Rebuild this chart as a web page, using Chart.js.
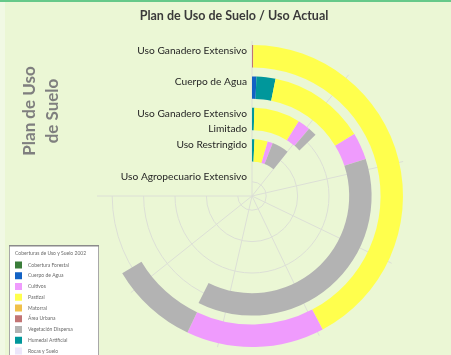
<!DOCTYPE html>
<html><head><meta charset="utf-8">
<script src="https://cdn.jsdelivr.net/npm/chart.js@4/dist/chart.umd.min.js"></script>
<style>
html,body{margin:0;padding:0;background:#EBF7D5;}
#wrap{position:relative;width:451px;height:355px;overflow:hidden;background:#EBF7D5;}
#strip{position:absolute;left:0;top:0;width:5px;height:355px;background:#F1F9E4;}
#topbar{position:absolute;left:0;top:0;width:451px;height:2px;background:#66C98A;}
canvas{position:absolute;left:0;top:0;}
</style></head><body>
<div id="wrap"><div id="strip"></div><canvas id="c" width="451" height="355"></canvas><div id="topbar"></div></div>
<script>
// ---- data ----
const chartTitle = 'Plan de Uso de Suelo / Uso Actual';
const axisTitle = ['Plan de Uso', 'de Suelo'];
const categories = [
  ['Uso Ganadero Extensivo'],
  ['Cuerpo de Agua'],
  ['Uso Ganadero Extensivo', 'Limitado'],
  ['Uso Restringido'],
  ['Uso Agropecuario Extensivo']
];
// land-cover classes in stacking order
const coverClasses = ['Área Urbana', 'Cuerpo de Agua', 'Humedal Artificial', 'Pastizal', 'Cultivos', 'Vegetación Dispersa', 'Cobertura Forestal', 'Matorral', 'Rocas y Suelo'];
const coverColors  = ['#C27474', '#1262C4', '#00979B', '#FFFF4D', '#EF9BFD', '#B3B3B3', '#3A7D3A', '#F0C04A', '#ECE6FA'];
// values for each ring, same order as coverClasses
const usoGanaderoExtensivo      = [0.13, 0,    0,    39.3, 13.8, 8.8,  0, 0, 0];
const cuerpoDeAgua              = [0,    0.55, 2.4,  12.3, 3.4,  34.9, 0, 0, 0];
const usoGanaderoExtLimitado    = [0,    0,    0.4,  7.9,  2.15, 1.5,  0, 0, 0];
const usoRestringido            = [0,    0,    0.65, 3.5,  1.4,  4.5,  0, 0, 0];
const usoAgropecuarioExtensivo  = [0,    0,    0,    0,    0,    0,    0, 0, 0];
const ringValues = [usoGanaderoExtensivo, cuerpoDeAgua, usoGanaderoExtLimitado, usoRestringido, usoAgropecuarioExtensivo];
const axisMax = 70;
const axisStep = 10;
const legendTitle = 'Coberturas de Uso y Suelo 2002';
const legendOrder = ['Cobertura Forestal', 'Cuerpo de Agua', 'Cultivos', 'Pastizal', 'Matorral', 'Área Urbana', 'Vegetación Dispersa', 'Humedal Artificial', 'Rocas y Suelo'];

// ---- build datasets (rings + transparent gaps) ----
const ringWeight = 22.5, gapWeight = 9;
const labels = coverClasses.concat(['resto']);
const datasets = [];
ringValues.forEach((vals, i) => {
  const sum = vals.reduce((a, b) => a + b, 0);
  datasets.push({
    label: categories[i].join(' '),
    data: vals.concat([axisMax - sum]),
    backgroundColor: coverColors.concat(['rgba(0,0,0,0)']),
    weight: ringWeight, isRing: true
  });
  if (i < ringValues.length - 1) {
    datasets.push({
      label: 'gap' + i,
      data: vals.map(() => 0).concat([axisMax]),
      backgroundColor: coverColors.map(() => 'rgba(0,0,0,0)').concat(['rgba(0,0,0,0)']),
      weight: gapWeight, isRing: false
    });
  }
});

const FONT = 'Lato, "Liberation Sans", sans-serif';

function ringMeta(chart) {
  const out = [];
  chart.data.datasets.forEach((ds, i) => {
    if (!ds.isRing) return;
    const el = chart.getDatasetMeta(i).data[0];
    out.push({ x: el.x, y: el.y, inner: el.innerRadius, outer: el.outerRadius });
  });
  return out;
}

const radialGrid = {
  id: 'radialGrid',
  beforeDatasetsDraw(chart) {
    const rings = ringMeta(chart);
    const ctx = chart.ctx;
    const cx = rings[0].x, cy = rings[0].y;
    const rMax = rings[0].outer + 4;
    ctx.save();
    ctx.strokeStyle = '#DCDFD6';
    ctx.lineWidth = 1;
    rings.forEach(r => {
      const rm = (r.inner + r.outer) / 2;
      ctx.beginPath();
      ctx.arc(cx, cy, rm, -Math.PI / 2, Math.PI);
      ctx.stroke();
    });
    for (let v = 0; v <= axisMax; v += axisStep) {
      const a = -Math.PI / 2 + (v / axisMax) * 1.5 * Math.PI;
      ctx.beginPath();
      ctx.moveTo(cx, cy);
      ctx.lineTo(cx + rMax * Math.cos(a), cy + rMax * Math.sin(a));
      ctx.stroke();
    }
    ctx.restore();
  },
  afterDraw(chart) {
    const rings = ringMeta(chart);
    const ctx = chart.ctx;
    const cx = rings[0].x, cy = rings[0].y;
    ctx.save();
    // category labels
    ctx.fillStyle = '#262626';
    ctx.font = '10.2px ' + FONT;
    ctx.textAlign = 'right';
    ctx.textBaseline = 'middle';
    rings.forEach((r, i) => {
      const rm = (r.inner + r.outer) / 2;
      categories[i].forEach((line, j) => {
        ctx.fillText(line, cx - 5, cy - rm - 5.5 + j * 15);
      });
    });
    // title
    ctx.fillStyle = '#3A3A3A';
    ctx.font = 'bold 12.5px ' + FONT;
    ctx.textAlign = 'center';
    ctx.fillText(chartTitle, 234, 16);
    // axis title
    ctx.fillStyle = '#7F7F7F';
    ctx.font = 'bold 17px ' + FONT;
    axisTitle.forEach((line, j) => {
      ctx.save();
      ctx.translate(30 + j * 23, 111);
      ctx.rotate(-Math.PI / 2);
      ctx.fillText(line, 0, 0);
      ctx.restore();
    });
    // legend box
    const bx = 9, by = 245, bw = 89, bh = 120;
    ctx.fillStyle = '#FFFFFF';
    ctx.fillRect(bx, by, bw, bh);
    ctx.strokeStyle = '#A8A8A8';
    ctx.lineWidth = 1;
    ctx.strokeRect(bx + 0.5, by + 0.5, bw, bh);
    ctx.fillStyle = '#8A8A8A';
    ctx.fillRect(bx, by, bw + 1, 1.5);
    ctx.textAlign = 'left';
    ctx.fillStyle = '#6A6A6A';
    ctx.font = '5px ' + FONT;
    ctx.fillText(legendTitle, bx + 6, by + 8);
    legendOrder.forEach((name, k) => {
      const yy = 265 + k * 10.75;
      ctx.fillStyle = coverColors[coverClasses.indexOf(name)];
      ctx.fillRect(bx + 6, yy - 3.5, 7, 7);
      ctx.fillStyle = '#6A6A6A';
      ctx.fillText(name, bx + 19, yy);
    });
    ctx.restore();
  }
};

new Chart(document.getElementById('c'), {
  type: 'doughnut',
  data: { labels: labels, datasets: datasets },
  options: {
    responsive: false,
    animation: false,
    events: [],
    circumference: 270,
    rotation: 0,
    cutout: 3,
    layout: { padding: { left: 101, right: 48, top: 45, bottom: 8 } },
    elements: { arc: { borderWidth: 0, hoverOffset: 0, offset: 0 } },
    plugins: { legend: { display: false }, tooltip: { enabled: false }, title: { display: false } }
  },
  plugins: [radialGrid]
});
</script>
</body></html>
